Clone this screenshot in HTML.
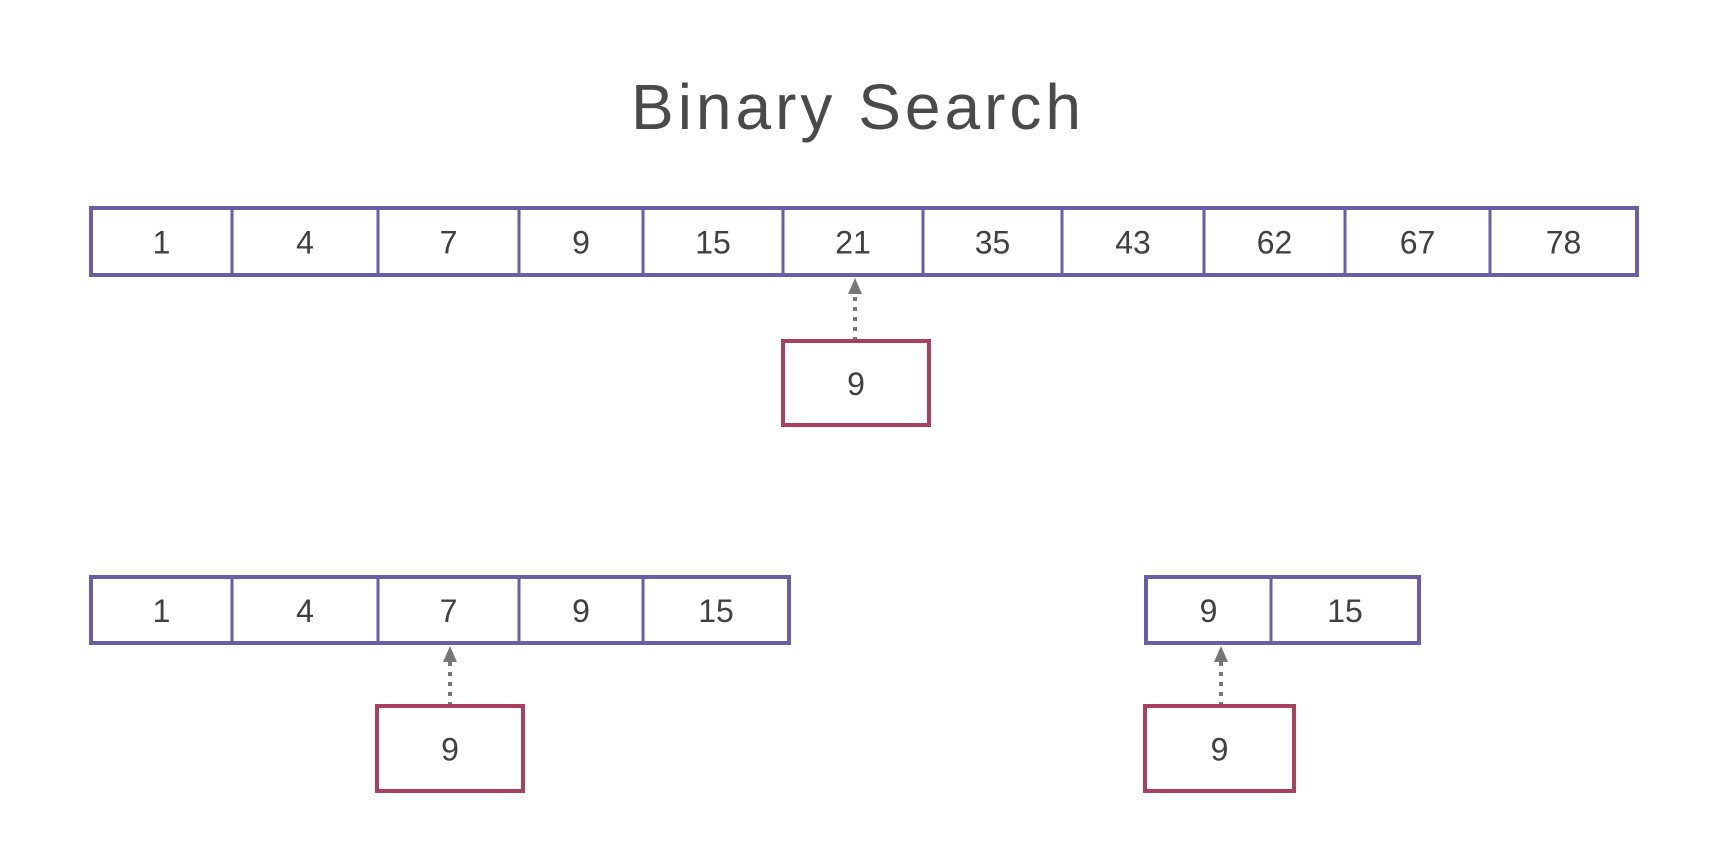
<!DOCTYPE html>
<html><head><meta charset="utf-8"><style>
html,body{margin:0;padding:0;background:#fff;}
svg{display:block;}
text{font-family:"Liberation Sans",sans-serif;fill:#404040;}
</style></head><body>
<svg width="1714" height="852" viewBox="0 0 1714 852">
<text x="858" y="129" text-anchor="middle" font-size="64" letter-spacing="4" style="font-weight:300;fill:#4a4a4a">Binary Search</text>
<g id="g"></g>
</svg>
<script>
const topValues=[1,4,7,9,15,21,35,43,62,67,78];
const topEdges=[91,232,378,519,643,783,923,1062,1204,1345,1490,1637];
const leftValues=[1,4,7,9,15];
const leftEdges=[91,232,378,519,643,789];
const rightValues=[9,15];
const rightEdges=[1146,1271,1419];
const target=9;
const NS='http://www.w3.org/2000/svg';
const g=document.getElementById('g');
function mk(t,a){const e=document.createElementNS(NS,t);for(const k in a)e.setAttribute(k,a[k]);g.appendChild(e);return e;}
function arr(vals,edges,y0,y1,name){
  const r=mk('rect',{x:edges[0],y:y0,width:edges[edges.length-1]-edges[0],height:y1-y0,fill:'#fff',stroke:'#6a5fa6','stroke-width':4});
  
  
  vals.forEach((v,i)=>{
    if(i>0){const l=mk('line',{x1:edges[i],x2:edges[i],y1:y0,y2:y1,stroke:'#6a5fa6','stroke-width':3});
      
      }
    const t=mk('text',{x:(edges[i]+edges[i+1])/2,y:(y0+y1)/2+12,'text-anchor':'middle','font-size':32});
    t.textContent=v;
    
    
  });
}
function tgt(x0,x1,y0,y1,ax,ay,name){
  const l=mk('line',{x1:ax,x2:ax,y1:y0,y2:ay+12,stroke:'#777','stroke-width':4,'stroke-dasharray':'4 6'});
  
  
  const p=mk('polygon',{points:`${ax},${ay} ${ax-7},${ay+16} ${ax+7},${ay+16}`,fill:'#777'});
  
  
  const r=mk('rect',{x:x0,y:y0,width:x1-x0,height:y1-y0,fill:'#fff',stroke:'#a8405e','stroke-width':4});
  
  
  const t=mk('text',{x:(x0+x1)/2,y:(y0+y1)/2+12,'text-anchor':'middle','font-size':32});
  t.textContent=target;
  
  
}
arr(topValues,topEdges,208,275,'top');
tgt(783,929,341,425,855,278,'top');
arr(leftValues,leftEdges,577,643,'left');
tgt(377,523,706,791,450,646,'left');
arr(rightValues,rightEdges,577,643,'right');
tgt(1145,1294,706,791,1221,646,'right');
</script>
</body></html>
